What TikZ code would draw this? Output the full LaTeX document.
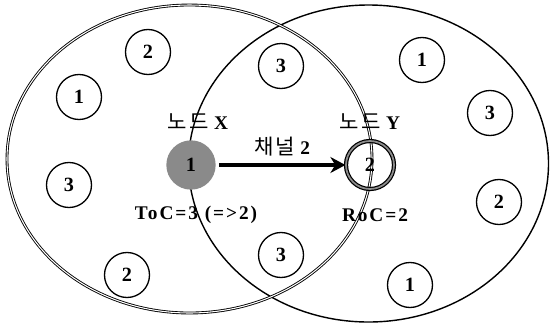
\documentclass[tikz,border=0pt]{standalone}
\usepackage{fontspec}
\setmainfont{Liberation Serif}
\newfontfamily\krfont[LetterSpace=12]{Noto Sans CJK KR}
\newfontfamily\spfont[LetterSpace=10]{Liberation Serif}
\usetikzlibrary{arrows.meta,positioning}
\definecolor{pgrayf}{HTML}{8A8A8A}
\definecolor{pgrayd}{HTML}{8C8C8C}
\tikzset{
  % numbered channel circle
  chn/.style   = {circle, draw=black, line width=0.75pt, fill=white, minimum size=9mm,
                  inner sep=0pt, text=black, font=\fontsize{11.5}{13}\selectfont\bfseries},
  node x/.style = {chn, draw=pgrayf, fill=pgrayf, minimum size=9.6mm},
  node y/.style = {chn, fill=none, draw=black, line width=0.7pt, double=pgrayd,
                   double distance=1pt, minimum size=9.6mm},
  txrange/.style = {draw=black, line width=0.8pt},
  tag/.style   = {font=\fontsize{11}{13}\selectfont\bfseries, inner sep=0pt},
  lane/.style  = {-{Stealth[length=3mm,width=3.2mm]}, line width=2.2pt},
}
\begin{document}
\begin{tikzpicture}
\useasboundingbox (0,0) rectangle (11,6.54);
% transmission ranges
\draw[txrange] (7.37,3.27) ellipse [x radius=3.6, y radius=3.17];
\draw[line width=0.5pt, double=white, double distance=0.6pt] (3.79,3.36) ellipse [x radius=3.65, y radius=3.08];
% channels around node X
\node[chn] (a2) at (2.96,5.50) {2};
\node[chn] (a1) at (1.58,4.60) {1};
\node[chn] (a3) at (1.38,2.84) {3};
\node[chn] (b2) at (2.54,1.04) {2};
\node[chn] (c3) at (5.62,5.22) {3};
\node[chn] (d3) at (5.62,1.44) {3};
% channels around node Y
\node[chn] (e1) at (8.44,5.34) {1};
\node[chn] (e3) at (9.80,4.28) {3};
\node[chn] (f2) at (9.98,2.50) {2};
\node[chn] (f1) at (8.20,0.84) {1};
% the two nodes
\node[node x] (x) at (3.82,3.24) {1};
\node[node y] (y) at (7.40,3.24) {2};
\draw[lane, shorten <=2pt] (x) -- (y);
\node[tag] (xname) at (3.96,4.10) {{\krfont\mdseries\fontsize{12}{14}\selectfont 노드}\ X};
\node[tag] (yname) at (7.40,4.10) {{\krfont\mdseries\fontsize{12}{14}\selectfont 노드}\ Y};
\node[tag] (chan) at (5.64,3.60) {{\krfont\mdseries\fontsize{12}{14}\selectfont 채널}\ 2};
\node[tag] (toc) at (3.92,2.24) {\spfont\bfseries ToC=3 (=>2)};
\node[tag] (roc) at (7.50,2.24) {\spfont\bfseries RoC=2};
\end{tikzpicture}
\end{document}
